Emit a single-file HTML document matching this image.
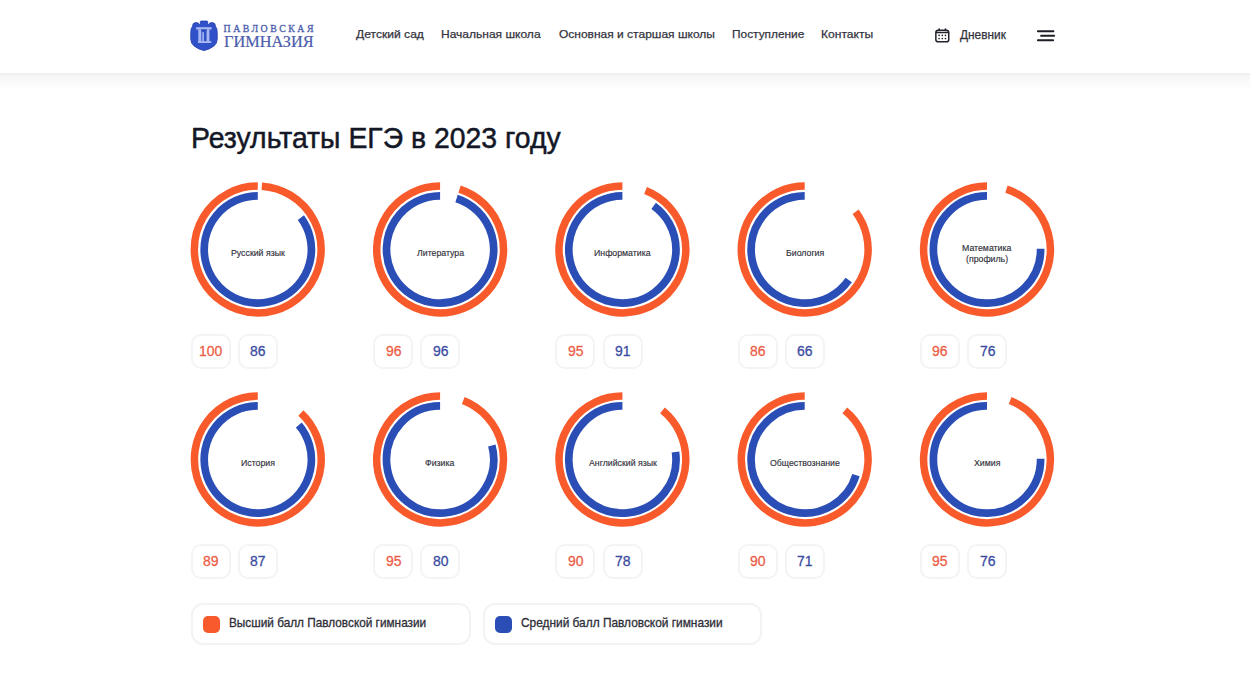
<!DOCTYPE html>
<html lang="ru"><head><meta charset="utf-8"><title>Результаты ЕГЭ</title>
<style>
*{box-sizing:border-box;margin:0;padding:0}
html,body{width:1250px;height:693px;overflow:hidden;background:#fff}
body{position:relative;font-family:"Liberation Sans",sans-serif;color:#2c2c36}
.hdr{position:absolute;left:0;top:0;width:1250px;height:73px;background:#fff;z-index:2}
.shd{position:absolute;left:0;top:73px;width:1250px;height:17px;background:linear-gradient(#efefef 0px,#f2f2f2 1.5px,#f6f6f6 3px,#f8f8f8 6.5px,#fafafa 8px,#fcfcfc 13px,#fff 17px)}
.t{position:absolute;white-space:nowrap;line-height:1;transform-origin:0 0}
.rings{position:absolute;left:0;top:0}
.box{position:absolute;height:35px;border:2px solid #f4f4f4;border-radius:10px;background:#fff}
.leg{position:absolute;top:603px;height:42px;border:2px solid #f3f3f3;border-radius:12px;background:#fff}
.sq{position:absolute;left:10.2px;top:10.5px;width:17.2px;height:17.5px;border-radius:5px}
</style></head><body>
<div class="shd"></div>
<div class="hdr">
 <svg style="position:absolute;left:188px;top:18px" width="32" height="34" viewBox="0 0 32 34">
  <path d="M4.6 8.2Q4.4 4.7 8 4.6Q10.6 4.6 11.6 6.4L12.3 5.6V3.8Q12.3 3.1 13.1 3.1H18.9Q19.7 3.1 19.7 3.8V5.6L20.4 6.4Q21.4 4.6 24 4.6Q27.6 4.7 27.4 8.2Q29.3 10.3 29.2 14.5V21.5Q29 29.2 16 32.6Q3 29.2 2.8 21.5V14.5Q2.7 10.3 4.6 8.2Z" fill="#3051c8" stroke="#2842b0" stroke-width="0.9"/>
  <g fill="#a9b8f2"><rect x="8.2" y="9.2" width="15.4" height="2.3"/><rect x="10.3" y="11.4" width="3" height="12.6"/><rect x="18.6" y="11.4" width="2.8" height="12.6"/><rect x="14.3" y="14.2" width="1.6" height="9.8"/><rect x="9.9" y="23.2" width="13.4" height="1.8"/></g>
  <path d="M13.3 13.2Q16 11.6 18.6 13.2V11.4H13.3Z" fill="#2a45b8"/>
 </svg>
 <div class="t" style="left:223.60px;top:23.87px;font-family:'Liberation Serif';font-size:9.80px;font-weight:normal;color:#4c5cad;-webkit-text-stroke:0.3px #4c5cad;letter-spacing:2.511px;">ПАВЛОВСКАЯ</div><div class="t" style="left:224.07px;top:34.45px;font-family:'Liberation Serif';font-size:16.20px;font-weight:normal;color:#4c5cad;transform:scaleX(1.0054);-webkit-text-stroke:0.2px #4c5cad;">ГИМНАЗИЯ</div>
 <div class="t" style="left:355.80px;top:28.00px;font-family:'Liberation Sans';font-size:11.60px;font-weight:normal;color:#34343e;transform:scaleX(1.0427);-webkit-text-stroke:0.25px #34343e;">Детский сад</div><div class="t" style="left:440.84px;top:28.00px;font-family:'Liberation Sans';font-size:11.60px;font-weight:normal;color:#34343e;transform:scaleX(1.0358);-webkit-text-stroke:0.25px #34343e;">Начальная школа</div><div class="t" style="left:558.62px;top:28.00px;font-family:'Liberation Sans';font-size:11.60px;font-weight:normal;color:#34343e;transform:scaleX(1.0340);-webkit-text-stroke:0.25px #34343e;">Основная и старшая школы</div><div class="t" style="left:731.55px;top:28.00px;font-family:'Liberation Sans';font-size:11.60px;font-weight:normal;color:#34343e;transform:scaleX(1.0242);-webkit-text-stroke:0.25px #34343e;">Поступление</div><div class="t" style="left:821.43px;top:28.00px;font-family:'Liberation Sans';font-size:11.60px;font-weight:normal;color:#34343e;transform:scaleX(1.0418);-webkit-text-stroke:0.25px #34343e;">Контакты</div><div class="t" style="left:960.30px;top:29.23px;font-family:'Liberation Sans';font-size:12.20px;font-weight:normal;color:#34343e;transform:scaleX(0.9745);-webkit-text-stroke:0.25px #34343e;">Дневник</div>
 <svg style="position:absolute;left:934px;top:27px" width="17" height="17" viewBox="0 0 17 17">
  <g fill="none" stroke="#22232c"><rect x="1.85" y="3.2" width="12.9" height="11.65" rx="2.4" stroke-width="1.5"/><path d="M1.85 5.5H14.75" stroke-width="1.5"/></g>
  <rect x="4.35" y="1.3" width="1.6" height="3" rx="0.8" fill="#22232c"/>
  <rect x="10.65" y="1.3" width="1.6" height="3" rx="0.8" fill="#22232c"/>
  <g fill="#22232c"><circle cx="5.1" cy="8.3" r="0.85"/><circle cx="8.3" cy="8.3" r="0.85"/><circle cx="11.5" cy="8.3" r="0.85"/><circle cx="5.1" cy="11.5" r="0.85"/><circle cx="8.3" cy="11.5" r="0.85"/><circle cx="11.5" cy="11.5" r="0.85"/></g>
 </svg>
 <svg style="position:absolute;left:1036px;top:29px" width="21" height="14" viewBox="0 0 21 14">
  <path d="M1.9 2.2H17.4M5.1 6.7H18.1M1.9 11.2H17.1" stroke="#1d1e26" stroke-width="2" stroke-linecap="round"/>
 </svg>
</div>
<div class="t" style="left:190.93px;top:122.78px;font-family:'Liberation Sans';font-size:30.14px;font-weight:normal;color:#141726;transform:scaleX(0.9423);-webkit-text-stroke:0.5px #141726;">Результаты ЕГЭ в 2023 году</div>
<svg class="rings" width="1250" height="693" viewBox="0 0 1250 693">
<path d="M261.78 186.23A63.4 63.4 0 1 1 257.80 186.10 M459.54 189.15A63.4 63.4 0 1 1 440.10 186.10 M645.55 190.48A63.4 63.4 0 1 1 622.40 186.10 M855.66 211.78A63.4 63.4 0 1 1 804.70 186.10 M1006.44 189.15A63.4 63.4 0 1 1 987.00 186.10 M300.88 412.98A63.4 63.4 0 1 1 257.80 396.10 M463.25 400.48A63.4 63.4 0 1 1 440.10 396.10 M662.50 410.40A63.4 63.4 0 1 1 622.40 396.10 M844.80 410.40A63.4 63.4 0 1 1 804.70 396.10 M1010.15 400.48A63.4 63.4 0 1 1 987.00 396.10" fill="none" stroke="#f85a2b" stroke-width="7.5"/>
<path d="M300.88 217.61A53.6 53.6 0 1 1 257.80 195.90 M456.54 198.48A53.6 53.6 0 1 1 440.10 195.90 M653.66 205.96A53.6 53.6 0 1 1 622.40 195.90 M848.73 280.07A53.6 53.6 0 1 1 804.70 195.90 M1040.59 248.69A53.6 53.6 0 1 1 987.00 195.90 M298.82 425.00A53.6 53.6 0 1 1 257.80 405.90 M491.84 445.52A53.6 53.6 0 1 1 440.10 405.90 M675.48 452.05A53.6 53.6 0 1 1 622.40 405.90 M855.97 475.13A53.6 53.6 0 1 1 804.70 405.90 M1040.59 458.69A53.6 53.6 0 1 1 987.00 405.90" fill="none" stroke="#2b4db6" stroke-width="7.7"/>
</svg>
<div class="box" style="left:190.8px;top:334.3px;width:40px"></div><div class="box" style="left:238.0px;top:334.3px;width:40px"></div><div class="t" style="left:199.13px;top:343.00px;font-family:'Liberation Sans';font-size:15.50px;font-weight:normal;color:#ec5d45;transform:scaleX(0.9000);-webkit-text-stroke:0.3px #ec5d45;">100</div><div class="t" style="left:250.41px;top:343.00px;font-family:'Liberation Sans';font-size:15.50px;font-weight:normal;color:#3a4b9f;transform:scaleX(0.9000);-webkit-text-stroke:0.3px #3a4b9f;">86</div><div class="box" style="left:373.1px;top:334.3px;width:40px"></div><div class="box" style="left:420.3px;top:334.3px;width:40px"></div><div class="t" style="left:385.51px;top:343.00px;font-family:'Liberation Sans';font-size:15.50px;font-weight:normal;color:#ec5d45;transform:scaleX(0.9000);-webkit-text-stroke:0.3px #ec5d45;">96</div><div class="t" style="left:432.71px;top:343.00px;font-family:'Liberation Sans';font-size:15.50px;font-weight:normal;color:#3a4b9f;transform:scaleX(0.9000);-webkit-text-stroke:0.3px #3a4b9f;">96</div><div class="box" style="left:555.4px;top:334.3px;width:40px"></div><div class="box" style="left:602.6px;top:334.3px;width:40px"></div><div class="t" style="left:567.81px;top:343.00px;font-family:'Liberation Sans';font-size:15.50px;font-weight:normal;color:#ec5d45;transform:scaleX(0.9000);-webkit-text-stroke:0.3px #ec5d45;">95</div><div class="t" style="left:615.08px;top:343.00px;font-family:'Liberation Sans';font-size:15.50px;font-weight:normal;color:#3a4b9f;transform:scaleX(0.9000);-webkit-text-stroke:0.3px #3a4b9f;">91</div><div class="box" style="left:737.7px;top:334.3px;width:40px"></div><div class="box" style="left:784.9px;top:334.3px;width:40px"></div><div class="t" style="left:750.11px;top:343.00px;font-family:'Liberation Sans';font-size:15.50px;font-weight:normal;color:#ec5d45;transform:scaleX(0.9000);-webkit-text-stroke:0.3px #ec5d45;">86</div><div class="t" style="left:797.25px;top:343.00px;font-family:'Liberation Sans';font-size:15.50px;font-weight:normal;color:#3a4b9f;transform:scaleX(0.9000);-webkit-text-stroke:0.3px #3a4b9f;">66</div><div class="box" style="left:920.0px;top:334.3px;width:40px"></div><div class="box" style="left:967.2px;top:334.3px;width:40px"></div><div class="t" style="left:932.41px;top:343.00px;font-family:'Liberation Sans';font-size:15.50px;font-weight:normal;color:#ec5d45;transform:scaleX(0.9000);-webkit-text-stroke:0.3px #ec5d45;">96</div><div class="t" style="left:979.55px;top:343.00px;font-family:'Liberation Sans';font-size:15.50px;font-weight:normal;color:#3a4b9f;transform:scaleX(0.9000);-webkit-text-stroke:0.3px #3a4b9f;">76</div><div class="box" style="left:190.8px;top:544.3px;width:40px"></div><div class="box" style="left:238.0px;top:544.3px;width:40px"></div><div class="t" style="left:203.28px;top:553.00px;font-family:'Liberation Sans';font-size:15.50px;font-weight:normal;color:#ec5d45;transform:scaleX(0.9000);-webkit-text-stroke:0.3px #ec5d45;">89</div><div class="t" style="left:250.48px;top:553.00px;font-family:'Liberation Sans';font-size:15.50px;font-weight:normal;color:#3a4b9f;transform:scaleX(0.9000);-webkit-text-stroke:0.3px #3a4b9f;">87</div><div class="box" style="left:373.1px;top:544.3px;width:40px"></div><div class="box" style="left:420.3px;top:544.3px;width:40px"></div><div class="t" style="left:385.51px;top:553.00px;font-family:'Liberation Sans';font-size:15.50px;font-weight:normal;color:#ec5d45;transform:scaleX(0.9000);-webkit-text-stroke:0.3px #ec5d45;">95</div><div class="t" style="left:432.71px;top:553.00px;font-family:'Liberation Sans';font-size:15.50px;font-weight:normal;color:#3a4b9f;transform:scaleX(0.9000);-webkit-text-stroke:0.3px #3a4b9f;">80</div><div class="box" style="left:555.4px;top:544.3px;width:40px"></div><div class="box" style="left:602.6px;top:544.3px;width:40px"></div><div class="t" style="left:567.81px;top:553.00px;font-family:'Liberation Sans';font-size:15.50px;font-weight:normal;color:#ec5d45;transform:scaleX(0.9000);-webkit-text-stroke:0.3px #ec5d45;">90</div><div class="t" style="left:614.95px;top:553.00px;font-family:'Liberation Sans';font-size:15.50px;font-weight:normal;color:#3a4b9f;transform:scaleX(0.9000);-webkit-text-stroke:0.3px #3a4b9f;">78</div><div class="box" style="left:737.7px;top:544.3px;width:40px"></div><div class="box" style="left:784.9px;top:544.3px;width:40px"></div><div class="t" style="left:750.11px;top:553.00px;font-family:'Liberation Sans';font-size:15.50px;font-weight:normal;color:#ec5d45;transform:scaleX(0.9000);-webkit-text-stroke:0.3px #ec5d45;">90</div><div class="t" style="left:797.31px;top:553.00px;font-family:'Liberation Sans';font-size:15.50px;font-weight:normal;color:#3a4b9f;transform:scaleX(0.9000);-webkit-text-stroke:0.3px #3a4b9f;">71</div><div class="box" style="left:920.0px;top:544.3px;width:40px"></div><div class="box" style="left:967.2px;top:544.3px;width:40px"></div><div class="t" style="left:932.41px;top:553.00px;font-family:'Liberation Sans';font-size:15.50px;font-weight:normal;color:#ec5d45;transform:scaleX(0.9000);-webkit-text-stroke:0.3px #ec5d45;">95</div><div class="t" style="left:979.55px;top:553.00px;font-family:'Liberation Sans';font-size:15.50px;font-weight:normal;color:#3a4b9f;transform:scaleX(0.9000);-webkit-text-stroke:0.3px #3a4b9f;">76</div>
<div class="t" style="left:230.77px;top:248.94px;font-family:'Liberation Sans';font-size:9.13px;font-weight:normal;color:#30303a;transform:scaleX(0.9600);-webkit-text-stroke:0.15px #30303a;">Русский язык</div><div class="t" style="left:416.81px;top:248.94px;font-family:'Liberation Sans';font-size:9.13px;font-weight:normal;color:#30303a;transform:scaleX(0.9600);-webkit-text-stroke:0.15px #30303a;">Литература</div><div class="t" style="left:594.02px;top:248.94px;font-family:'Liberation Sans';font-size:9.13px;font-weight:normal;color:#30303a;transform:scaleX(0.9600);-webkit-text-stroke:0.15px #30303a;">Информатика</div><div class="t" style="left:785.79px;top:248.94px;font-family:'Liberation Sans';font-size:9.13px;font-weight:normal;color:#30303a;transform:scaleX(0.9600);-webkit-text-stroke:0.15px #30303a;">Биология</div><div class="t" style="left:962.24px;top:244.34px;font-family:'Liberation Sans';font-size:9.13px;font-weight:normal;color:#30303a;transform:scaleX(0.9600);-webkit-text-stroke:0.15px #30303a;">Математика</div><div class="t" style="left:966.21px;top:254.54px;font-family:'Liberation Sans';font-size:9.13px;font-weight:normal;color:#30303a;transform:scaleX(0.9600);-webkit-text-stroke:0.15px #30303a;">(профиль)</div><div class="t" style="left:241.02px;top:458.94px;font-family:'Liberation Sans';font-size:9.13px;font-weight:normal;color:#30303a;transform:scaleX(0.9600);-webkit-text-stroke:0.15px #30303a;">История</div><div class="t" style="left:425.48px;top:458.94px;font-family:'Liberation Sans';font-size:9.13px;font-weight:normal;color:#30303a;transform:scaleX(0.9600);-webkit-text-stroke:0.15px #30303a;">Физика</div><div class="t" style="left:588.67px;top:458.94px;font-family:'Liberation Sans';font-size:9.13px;font-weight:normal;color:#30303a;transform:scaleX(0.9600);-webkit-text-stroke:0.15px #30303a;">Английский язык</div><div class="t" style="left:770.03px;top:458.94px;font-family:'Liberation Sans';font-size:9.13px;font-weight:normal;color:#30303a;transform:scaleX(0.9600);-webkit-text-stroke:0.15px #30303a;">Обществознание</div><div class="t" style="left:974.28px;top:458.94px;font-family:'Liberation Sans';font-size:9.13px;font-weight:normal;color:#30303a;transform:scaleX(0.9600);-webkit-text-stroke:0.15px #30303a;">Химия</div>
<div class="leg" style="left:191px;width:280px"><div class="sq" style="background:#f85a2b"></div></div>
<div class="leg" style="left:483px;width:279px"><div class="sq" style="background:#2b4db6"></div></div>
<div class="t" style="left:229.16px;top:617.00px;font-family:'Liberation Sans';font-size:12.20px;font-weight:normal;color:#2e2e38;transform:scaleX(0.9679);-webkit-text-stroke:0.3px #2e2e38;">Высший балл Павловской гимназии</div><div class="t" style="left:521.01px;top:617.00px;font-family:'Liberation Sans';font-size:12.20px;font-weight:normal;color:#2e2e38;transform:scaleX(0.9746);-webkit-text-stroke:0.3px #2e2e38;">Средний балл Павловской гимназии</div>
</body></html>
